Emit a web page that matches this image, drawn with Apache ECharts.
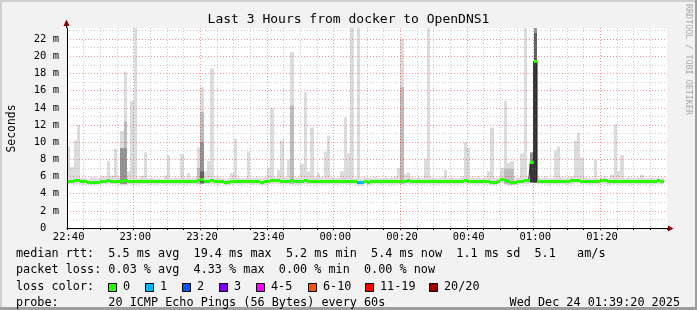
<!DOCTYPE html>
<html><head><meta charset="utf-8">
<script src="https://cdn.jsdelivr.net/npm/echarts@6/dist/echarts.min.js"></script>
<style>html,body{margin:0;padding:0;background:#f2f2f2}#c{width:697px;height:310px}</style>
</head><body><div id="c"></div>
<script>
// ---------------- DATA ----------------
const titleText = 'Last 3 Hours from docker to OpenDNS1';
const yAxisName = 'Seconds';
const sideText = 'RRDTOOL / TOBI OETIKER';
const tickLabels = ['22:40','23:00','23:20','23:40','00:00','00:20','00:40','01:00','01:20'];
const startHour = 22, startMin = 40, nSteps = 180;
const categories = [];
for (let i = 0; i < nSteps; i++) {
  const t = (startHour * 60 + startMin + i) % 1440;
  categories.push(String(Math.floor(t / 60)).padStart(2, '0') + ':' + String(t % 60).padStart(2, '0'));
}
// smoke: top of the outer (light) band, in ms
const smokeHi = [
  9.5, 7.1,10.2,12.0, 5.8, 5.8, 5.7, 5.9, 5.9, 5.8,
  6.0, 6.0, 7.8, 6.1, 9.2, 6.0,11.3,18.2, 6.6,14.8,
 23.3, 5.8, 6.1, 8.8, 5.8, 5.8, 5.7, 5.8, 5.7, 6.1,
  8.5, 5.8, 5.9, 5.8, 8.6, 5.8, 6.4, 5.8, 5.9, 9.4,
 16.4, 6.6, 7.8,18.6, 5.8, 5.9, 5.8, 5.7, 5.8, 6.4,
 10.4, 5.9, 5.8, 5.8, 8.9, 5.8, 5.9, 5.8, 5.8, 5.9,
  7.0,14.0, 5.9, 6.8,10.2, 5.9, 7.9,20.5, 5.9, 5.8,
  7.5,15.8, 6.6,11.7, 5.9, 6.4, 5.9, 8.9,10.8, 5.9,
  5.8, 5.9, 6.6,12.9, 8.7,23.3, 5.8,23.3, 5.8, 5.9,
  5.8, 5.8, 5.9, 5.8, 5.8, 5.9, 5.8, 5.9, 6.0, 7.0,
 22.0, 6.3, 6.5, 5.9, 5.8, 5.9, 5.8, 8.0,23.3, 5.9,
  5.8, 5.8, 5.9, 6.8, 5.8, 5.9, 5.8, 5.8, 6.0,10.0,
  9.4, 5.9, 5.8, 5.9, 5.8, 6.0, 6.6,11.7, 5.8, 5.9,
  7.0,14.8, 7.6, 7.8, 5.9, 5.8, 8.7,23.3, 5.9, 8.8,
 23.3, 5.9, 5.8, 6.0, 5.8, 5.8, 9.0, 9.5, 5.9, 5.8,
  5.9, 6.0,10.2,11.1, 8.2, 5.9, 5.8, 5.8, 7.9, 5.8,
  5.9, 6.0, 5.8, 6.2,12.1, 6.6, 8.5, 5.8, 5.9, 5.8,
  5.8, 5.9, 6.2, 5.8, 5.8, 5.9, 5.8, 5.8, 5.8, null
];
// smoke: bottom of the bands, in ms
const smokeLo = [
  5.1, 5.1, 5.05,5.1, 5.05,5.0, 5.05,5.0, 5.0, 5.05,
  5.1, 5.1, 5.1, 5.1, 5.1, 5.05,5.1, 5.1, 5.1, 5.05,
  5.05,5.05,5.1, 5.1, 5.05,5.05,5.05,5.05,5.1, 5.05,
  5.1, 5.05,5.05,5.05,5.1, 5.05,5.05,5.1, 5.1, 5.1,
  5.2, 5.1, 5.1, 5.1, 5.05,5.05,5.1, 5.0, 5.0, 5.05,
  5.1, 5.05,5.05,5.1, 5.1, 5.05,5.05,5.05,5.0, 5.05,
  5.1, 5.1, 5.15,5.1, 5.1, 5.1, 5.1, 5.1, 5.05,5.05,
  5.1, 5.1, 5.1, 5.1, 5.05,5.1, 5.05,5.05,5.1, 5.1,
  5.05,5.05,5.1, 5.1, 5.05,5.1, 5.05,4.95,4.95,5.1,
  5.0, 5.05,5.1, 5.05,5.05,5.1, 5.05,5.05,5.05,5.1,
  5.1, 5.05,5.1, 5.05,5.05,5.1, 5.05,5.1, 5.1, 5.05,
  5.05,5.05,5.1, 5.05,5.1, 5.05,5.05,5.05,5.1, 5.1,
  5.1, 5.1, 5.05,5.05,5.1, 5.05,5.05,5.0, 5.0, 5.1,
  5.2, 5.1, 5.05,5.0, 5.0, 5.05,5.1, 5.1, 5.1, 5.3,
  5.3, 5.1, 5.1, 5.05,5.05,5.1, 5.1, 5.05,5.1, 5.05,
  5.1, 5.1, 5.2, 5.2, 5.1, 5.1, 5.05,5.05,5.1, 5.05,
  5.1, 5.1, 5.05,5.05,5.1, 5.05,5.05,5.1, 5.05,5.05,
  5.1, 5.05,5.1, 5.05,5.1, 5.05,5.1, 5.1, 5.1, null
];
// inner (darker) smoke bands: [sample index, top in ms, darkness level 1..4]
const innerBands = [
  [16, 9.3, 2], [17, 12.4, 1], [17, 9.3, 2],
  [39, 7.0, 1], [40, 13.5, 1], [40, 10.0, 2], [40, 6.6, 3],
  [67, 14.3, 1], [100, 16.4, 1],
  [131, 6.9, 1], [132, 6.9, 1], [133, 6.9, 1],
  [139, 8.8, 2], [139, 7.6, 4],
  [140, 23.3, 2], [140, 22.7, 3], [140, 19.4, 4]
];
// median rtt per sample, in ms
const median = [
  5.45,5.45,5.55,5.5, 5.4, 5.4, 5.35,5.35,5.3, 5.35,
  5.4, 5.45,5.55,5.45,5.45,5.4, 5.45,5.55,5.45,5.4,
  5.4, 5.4, 5.45,5.45,5.4, 5.4, 5.4, 5.4, 5.45,5.4,
  5.45,5.4, 5.4, 5.4, 5.45,5.4, 5.4, 5.45,5.45,5.5,
  5.6, 5.45,5.45,5.55,5.4, 5.4, 5.45,5.35,5.35,5.4,
  5.45,5.4, 5.4, 5.45,5.45,5.4, 5.4, 5.4, 5.35,5.4,
  5.45,5.5, 5.55,5.5, 5.45,5.45,5.45,5.5, 5.4, 5.4,
  5.45,5.5, 5.45,5.45,5.4, 5.45,5.4, 5.4, 5.45,5.45,
  5.4, 5.4, 5.45,5.45,5.4, 5.45,5.4, 5.25,5.25,5.45,
  5.35,5.4, 5.45,5.4, 5.4, 5.45,5.4, 5.4, 5.4, 5.45,
  5.45,5.4, 5.5, 5.4, 5.4, 5.45,5.4, 5.45,5.45,5.4,
  5.4, 5.4, 5.45,5.4, 5.45,5.4, 5.4, 5.4, 5.45,5.5,
  5.45,5.45,5.4, 5.4, 5.45,5.4, 5.4, 5.35,5.35,5.45,
  5.6, 5.5, 5.4, 5.35,5.3, 5.4, 5.45,5.5, 5.5, 7.6,
  19.4,5.45,5.45,5.4, 5.4, 5.45,5.45,5.4, 5.45,5.4,
  5.45,5.5, 5.55,5.55,5.45,5.45,5.4, 5.4, 5.45,5.4,
  5.5, 5.5, 5.4, 5.4, 5.45,5.4, 5.4, 5.45,5.4, 5.4,
  5.45,5.4, 5.45,5.4, 5.45,5.4, 5.45,5.5, 5.45,null
];
// samples with packet loss: [sample index, lost pings]
const lossSamples = [[87, 1], [88, 1]];
// loss colour legend
const lossLabels = ['0', '1', '2', '3', '4-5', '6-10', '11-19', '20/20'];
const lossColors = ['#26ff00', '#00b8ff', '#0059ff', '#7e00ff', '#ff00ff', '#ff5500', '#ff0000', '#a10000'];
// legend statistics text
const statRow1 = 'median rtt:  5.5 ms avg  19.4 ms max  5.2 ms min  5.4 ms now  1.1 ms sd  5.1   am/s';
const statRow2 = 'packet loss: 0.03 % avg  4.33 % max  0.00 % min  0.00 % now';
const statRow3 = 'loss color:';
const statRow4 = 'probe:       20 ICMP Echo Pings (56 Bytes) every 60s';
const dateText = 'Wed Dec 24 01:39:20 2025';
const yMax = 23.3;

// ---------------- STYLE / BUILD ----------------
const MONO = '"DejaVu Sans Mono"';
const bandColors = { 0: '#dcdcdc', 1: '#bcbcbc', 2: '#939393', 3: '#626262', 4: '#383838' };
const lossIndex = n => n === 0 ? 0 : n === 1 ? 1 : n === 2 ? 2 : n === 3 ? 3 : n <= 5 ? 4 : n <= 10 ? 5 : n <= 19 ? 6 : 7;
const lossOf = i => { const f = lossSamples.find(s => s[0] === i); return f ? f[1] : 0; };

function rectItem(color) {
  return function (params, api) {
    const i = api.value(0), lo = api.value(1), hi = api.value(2);
    const a = api.coord([i, lo]), b = api.coord([i, hi]);
    const w = api.size([1, 0])[0];
    const x0 = Math.round(a[0] - w / 2), x1 = Math.round(a[0] + w / 2);
    return { type: 'rect', shape: { x: x0, y: b[1], width: x1 - x0, height: a[1] - b[1] }, style: { fill: color } };
  };
}
const series = [];
const lightData = [];
smokeHi.forEach((h, i) => { if (h != null) lightData.push([i, smokeLo[i], h]); });
series.push({ type: 'custom', z: 1, clip: true, data: lightData, encode: { x: 0, y: [1, 2] }, renderItem: rectItem(bandColors[0]) });
[1, 2, 3, 4].forEach(lv => {
  const d = innerBands.filter(b => b[2] === lv).map(b => [b[0], smokeLo[b[0]], b[1]]);
  series.push({ type: 'custom', z: 1 + lv * 0.1, clip: true, data: d, encode: { x: 0, y: [1, 2] }, renderItem: rectItem(bandColors[lv]) });
});
series.push({ type: 'line', z: 3, data: median, step: 'middle', symbol: 'none', silent: true,
  lineStyle: { color: '#1c1c1c', width: 1 }, connectNulls: false });
const medData = [];
median.forEach((m, i) => { if (m != null) medData.push([i, m, lossOf(i)]); });
series.push({ type: 'custom', z: 4, clip: true, data: medData, encode: { x: 0, y: 1 },
  renderItem(params, api) {
    const i = api.value(0), m = api.value(1), l = api.value(2);
    const p = api.coord([i, m]);
    const w = api.size([1, 0])[0];
    const x0 = Math.round(p[0] - w / 2), x1 = Math.round(p[0] + w / 2);
    return { type: 'rect', shape: { x: x0, y: Math.round(p[1] - 1.5), width: x1 - x0, height: 3 },
      style: { fill: lossColors[lossIndex(l)] } };
  } });

const MAJOR = 'rgba(255,0,0,0.42)', MINOR = 'rgba(140,140,140,0.45)';
const xGridColors = [];
for (let k = 0; k < 36; k++) xGridColors.push(k % 4 === 0 ? MAJOR : MINOR);
xGridColors.push('rgba(0,0,0,0)');
const yGridColors = [];
for (let k = 0; k < 24; k++) yGridColors.push(k % 2 === 0 ? MAJOR : MINOR);
yGridColors.push('rgba(0,0,0,0)');

const isMinorStep = (idx) => idx % 5 === 0;
const isLabel = (idx, val) => tickLabels.indexOf(val) >= 0 && idx % 20 === 0;

const GL = 67, GT = 28, GW = 600, GH = 200;
const legendFont = '11.8px ' + MONO;
const rowY = [253.5, 270, 286.5, 303];
const graphic = [
  { type: 'rect', shape: { x: 0, y: 0, width: 697, height: 2 }, style: { fill: '#cfcfcf' } },
  { type: 'rect', shape: { x: 0, y: 0, width: 2, height: 310 }, style: { fill: '#cfcfcf' } },
  { type: 'rect', shape: { x: 695, y: 0, width: 2, height: 310 }, style: { fill: '#9e9e9e' } },
  { type: 'rect', shape: { x: 0, y: 307, width: 697, height: 3 }, style: { fill: '#9e9e9e' } },
  { type: 'text', x: 348.5, y: 19.5, style: { text: titleText, font: '13px ' + MONO, fill: '#000', align: 'center', verticalAlign: 'middle' } },
  { type: 'text', x: 12, y: 128.5, rotation: Math.PI / 2, style: { text: yAxisName, font: '11.4px ' + MONO, fill: '#000', align: 'center', verticalAlign: 'middle' } },
  { type: 'text', x: 688.5, y: 4, rotation: -Math.PI / 2, style: { text: sideText, font: '8.4px ' + MONO, fill: '#a8a8a8', align: 'left', verticalAlign: 'middle' } },
  // axis extensions with arrows
  { type: 'line', shape: { x1: 66.5, y1: 28, x2: 66.5, y2: 22 }, style: { stroke: '#000', lineWidth: 1 } },
  { type: 'polygon', shape: { points: [[63.5, 26], [66.5, 19.5], [69.5, 26]] }, style: { fill: '#8b0000' } },
  { type: 'line', shape: { x1: 667, y1: 228.5, x2: 670, y2: 228.5 }, style: { stroke: '#000', lineWidth: 1 } },
  { type: 'polygon', shape: { points: [[668, 225.5], [673.5, 228.5], [668, 231.5]] }, style: { fill: '#8b0000' } },
  // legend
  { type: 'text', x: 16, y: rowY[0], style: { text: statRow1, font: legendFont, fill: '#000', verticalAlign: 'middle' } },
  { type: 'text', x: 16, y: rowY[1], style: { text: statRow2, font: legendFont, fill: '#000', verticalAlign: 'middle' } },
  { type: 'text', x: 16, y: rowY[2], style: { text: statRow3, font: legendFont, fill: '#000', verticalAlign: 'middle' } },
  { type: 'text', x: 16, y: rowY[3], style: { text: statRow4, font: legendFont, fill: '#000', verticalAlign: 'middle' } },
  { type: 'text', x: 680, y: rowY[3], style: { text: dateText, font: legendFont, fill: '#000', align: 'right', verticalAlign: 'middle' } }
];
const boxX = [108, 145, 182, 219, 256, 308, 365, 429];
lossLabels.forEach((lab, k) => {
  graphic.push({ type: 'rect', shape: { x: boxX[k] + 0.5, y: Math.round(rowY[2] - 4) + 0.5, width: 8, height: 8 }, style: { fill: lossColors[k], stroke: '#000', lineWidth: 1 } });
  graphic.push({ type: 'text', x: boxX[k] + 15, y: rowY[2], style: { text: lab, font: legendFont, fill: '#000', verticalAlign: 'middle' } });
});

const chart = echarts.init(document.getElementById('c'), null, { renderer: 'canvas' });
chart.setOption({
  animation: false,
  backgroundColor: '#f2f2f2',
  grid: { left: GL, top: GT, width: GW, height: GH, show: true, backgroundColor: '#ffffff', borderWidth: 0 },
  xAxis: {
    type: 'category', data: categories, boundaryGap: true, z: 5,
    axisLine: { show: true, lineStyle: { color: '#000', width: 1 } },
    axisTick: { show: true, interval: isMinorStep, length: 2, lineStyle: { color: '#000' } },
    axisLabel: { interval: isLabel, margin: 4, fontFamily: MONO, fontSize: 10.5, color: '#000' },
    splitLine: { show: true, interval: isMinorStep, lineStyle: { color: xGridColors, type: [1, 2], width: 1 } }
  },
  yAxis: {
    type: 'value', min: 0, max: yMax, interval: 1, z: 5,
    axisLine: { show: true, lineStyle: { color: '#000', width: 1 } },
    axisTick: { show: false },
    axisLabel: { margin: 8, fontFamily: MONO, fontSize: 10.5, color: '#000',
      formatter: v => (Math.abs(v - Math.round(v)) > 1e-6 || Math.round(v) % 2 !== 0) ? '' : (v === 0 ? '0  ' : Math.round(v) + ' m') },
    splitLine: { show: true, lineStyle: { color: yGridColors, type: [1, 2], width: 1 } }
  },
  series: series,
  graphic: graphic
});
</script>
</body></html>
